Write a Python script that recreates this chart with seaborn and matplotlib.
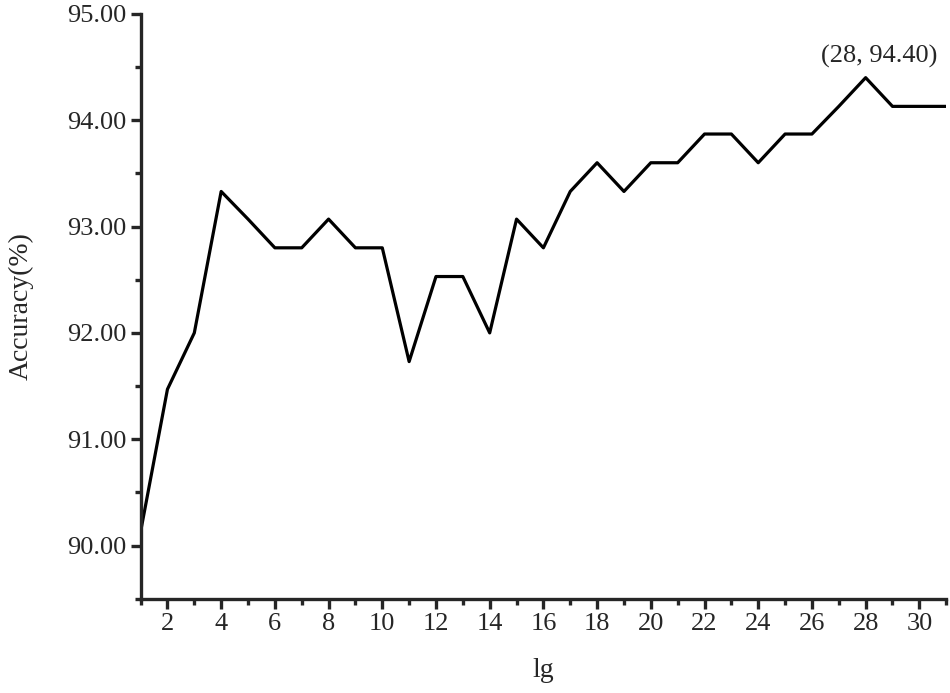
import numpy as np
import pandas as pd
import matplotlib
matplotlib.use("Agg")
import matplotlib.pyplot as plt
import seaborn as sns
from matplotlib.ticker import MultipleLocator, FormatStrFormatter

# ============================
# DATA
# ============================
lg = list(range(1, 32))
accuracy = [90.13, 91.47, 92.00, 93.33, 93.07, 92.80, 92.80, 93.07, 92.80, 92.80,
            91.73, 92.53, 92.53, 92.00, 93.07, 92.80, 93.33, 93.60, 93.33, 93.60,
            93.60, 93.87, 93.87, 93.60, 93.87, 93.87, 94.13, 94.40, 94.13, 94.13,
            94.13]
best_x, best_y = 28, 94.40

df = pd.DataFrame({"lg": lg, "acc": accuracy})

# ============================
# STYLE
# ============================
sns.set_style("ticks")
plt.rcParams["font.family"] = ["Liberation Serif", "DejaVu Serif"]
plt.rcParams["axes.linewidth"] = 2.4

fig = plt.figure(figsize=(9.5, 6.93), dpi=100)
ax = fig.add_axes([0.148, 0.136, 0.848, 0.844])

sns.lineplot(data=df, x="lg", y="acc", color="black", linewidth=2.3, ax=ax)

ax.set_xlim(1, 31)
ax.set_ylim(89.5, 95)
ax.xaxis.set_major_locator(MultipleLocator(2))
ax.xaxis.set_minor_locator(MultipleLocator(1))
ax.yaxis.set_major_locator(MultipleLocator(1))
ax.yaxis.set_minor_locator(MultipleLocator(0.5))
ax.yaxis.set_major_formatter(FormatStrFormatter("%.2f"))
ax.set_xticks(range(2, 31, 2))

ax.tick_params(which="major", direction="out", length=7, width=2.4, labelsize=19)
ax.tick_params(which="minor", direction="out", length=4.5, width=2.4)

sns.despine(ax=ax)

ax.set_xlabel("lg", fontsize=20, labelpad=16)
ax.set_ylabel("Accuracy(%)", fontsize=20, labelpad=24)

ax.annotate(f"({best_x}, {best_y:.2f})", xy=(best_x, best_y), xytext=(10, 7),
            textcoords="offset points", ha="center", va="bottom", fontsize=19)

fig.savefig("out.png", dpi=100)
